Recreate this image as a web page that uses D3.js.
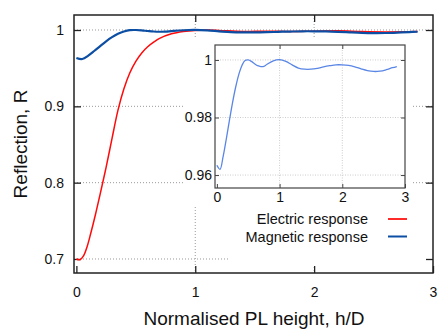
<!DOCTYPE html>
<html>
<head>
<meta charset="utf-8">
<script src="https://cdn.jsdelivr.net/npm/d3@7"></script>
<style>
  body { margin: 0; background: #fff; }
  text { font-family: "Liberation Sans", Arial, sans-serif; fill: #111; }
</style>
</head>
<body>
<div id="chart"></div>
<script>
// Data
const hElectric = [0, 0.03, 0.06, 0.09, 0.12, 0.16, 0.2, 0.25, 0.3, 0.35, 0.4, 0.45, 0.5, 0.55, 0.6,
  0.65, 0.7, 0.8, 0.9, 1.0, 1.1, 1.2, 1.4, 1.6, 1.8, 2.0, 2.2, 2.4, 2.6, 2.87];
const rElectric = [0.700, 0.699, 0.704, 0.716, 0.733, 0.758, 0.785, 0.820, 0.858, 0.895, 0.923, 0.944, 0.959, 0.970, 0.978,
  0.984, 0.989, 0.995, 0.998, 0.9995, 1.000, 0.9995, 0.998, 0.9985, 0.998, 0.9985, 0.999, 0.998, 0.9975, 0.998];

const hMagnetic = [0, 0.05, 0.1, 0.15, 0.2, 0.25, 0.3, 0.35, 0.4, 0.45, 0.5, 0.55, 0.6, 0.65, 0.7, 0.75, 0.8,
  0.9, 1.0, 1.1, 1.2, 1.3, 1.4, 1.5, 1.6, 1.7, 1.8, 1.9, 2.0, 2.1, 2.2, 2.3, 2.4, 2.5, 2.6, 2.7, 2.8, 2.87];
const rMagnetic = [0.9634, 0.9620, 0.9665, 0.9725, 0.9790, 0.9852, 0.9906, 0.9950, 0.9981, 0.9998, 1.0000, 0.9995, 0.9987, 0.9980, 0.9977, 0.9978, 0.9985,
  0.9997, 1.0001, 0.9995, 0.9983, 0.9972, 0.9968, 0.9968, 0.9971, 0.9976, 0.9980, 0.9983, 0.9983, 0.9981, 0.9976, 0.9969, 0.9963, 0.9960, 0.9961, 0.9966, 0.9973, 0.9977];

const mainXTicks = [0, 1, 2, 3];
const mainYTicks = [0.7, 0.8, 0.9, 1];
const insetXTicks = [0, 1, 2, 3];
const insetYTicks = [0.96, 0.98, 1];
const legendLabels = ["Electric response", "Magnetic response"];

const width = 438, height = 329;
const electric = hElectric.map((h, i) => [h, rElectric[i]]);
const magnetic = hMagnetic.map((h, i) => [h, rMagnetic[i]]);

const svg = d3.select("#chart").append("svg")
    .attr("width", width)
    .attr("height", height);

// Main plot scales
const x = d3.scaleLinear().domain([-0.02, 3]).range([74, 433]);
const y = d3.scaleLinear().domain([0.68165, 1.01965]).range([273, 15]);

// Main grid
const grid = svg.append("g")
    .attr("stroke", "#999")
    .attr("stroke-width", 1)
    .attr("stroke-dasharray", "1,2");
grid.selectAll(".gy").data(mainYTicks).enter().append("line")
    .attr("x1", 74).attr("x2", 433)
    .attr("y1", d => y(d)).attr("y2", d => y(d));
grid.selectAll(".gx").data([1, 2]).enter().append("line")
    .attr("x1", d => x(d)).attr("x2", d => x(d))
    .attr("y1", 15).attr("y2", 273);

// White boxes of inset and key
svg.append("rect").attr("x", 183).attr("y", 38).attr("width", 229).attr("height", 169).attr("fill", "#fff");
svg.append("rect").attr("x", 228).attr("y", 207).attr("width", 205).attr("height", 59).attr("fill", "#fff");

// Main axes (inward ticks, mirrored)
function styleAxis(g) {
  g.select(".domain").remove();
  g.selectAll(".tick line").attr("stroke", "#222").attr("stroke-width", 1.3);
  g.selectAll(".tick text").attr("font-size", 14).attr("fill", "#111")
    .attr("font-family", "Liberation Sans, Arial, sans-serif");
}
svg.append("g").attr("transform", "translate(0,273)")
    .call(d3.axisBottom(x).tickValues(mainXTicks).tickFormat(d3.format("d")).tickSizeInner(-7).tickSizeOuter(0).tickPadding(14))
    .call(styleAxis);
svg.append("g").attr("transform", "translate(74,0)")
    .call(d3.axisLeft(y).tickValues(mainYTicks).tickFormat(d => d === 1 ? "1" : d3.format(".1f")(d)).tickSizeInner(-7).tickSizeOuter(0).tickPadding(10))
    .call(styleAxis);
svg.append("g").attr("transform", "translate(0,15)")
    .call(d3.axisTop(x).tickValues([1, 2]).tickFormat("").tickSizeInner(-7).tickSizeOuter(0))
    .call(styleAxis);
svg.append("g").attr("transform", "translate(433,0)")
    .call(d3.axisRight(y).tickValues(mainYTicks).tickFormat("").tickSizeInner(-7).tickSizeOuter(0))
    .call(styleAxis);

svg.append("rect")
    .attr("x", 74).attr("y", 15).attr("width", 359).attr("height", 258)
    .attr("fill", "none").attr("stroke", "#222").attr("stroke-width", 1.5);

// Main curves
const line = d3.line().x(d => x(d[0])).y(d => y(d[1])).curve(d3.curveCatmullRom.alpha(0.5));
svg.append("path").datum(electric).attr("d", line)
    .attr("fill", "none").attr("stroke", "#ff0a0a").attr("stroke-width", 1.5);
svg.append("path").datum(magnetic).attr("d", line)
    .attr("fill", "none").attr("stroke", "#0c4ea3").attr("stroke-width", 2.2);

// Inset
const xi = d3.scaleLinear().domain([-0.03, 3]).range([215, 405]);
const yi = d3.scaleLinear().domain([0.9555, 1.0052]).range([188, 45]);

const igrid = svg.append("g")
    .attr("stroke", "#ccc")
    .attr("stroke-width", 1)
    .attr("stroke-dasharray", "1,1.5");
igrid.selectAll(".gy").data(insetYTicks).enter().append("line")
    .attr("x1", 215).attr("x2", 405)
    .attr("y1", d => yi(d)).attr("y2", d => yi(d));
igrid.selectAll(".gx").data([1, 2]).enter().append("line")
    .attr("x1", d => xi(d)).attr("x2", d => xi(d))
    .attr("y1", 45).attr("y2", 188);

function styleInset(g) {
  g.select(".domain").remove();
  g.selectAll(".tick line").attr("stroke", "#444").attr("stroke-width", 1);
  g.selectAll(".tick text").attr("font-size", 14).attr("fill", "#111")
    .attr("font-family", "Liberation Sans, Arial, sans-serif");
}
svg.append("g").attr("transform", "translate(0,188)")
    .call(d3.axisBottom(xi).tickValues(insetXTicks).tickFormat(d3.format("d")).tickSizeInner(-4).tickSizeOuter(0).tickPadding(4))
    .call(styleInset);
svg.append("g").attr("transform", "translate(215,0)")
    .call(d3.axisLeft(yi).tickValues(insetYTicks).tickFormat(d => d === 1 ? "1" : d3.format(".2f")(d)).tickSizeInner(-4).tickSizeOuter(0).tickPadding(3))
    .call(styleInset);
svg.append("g").attr("transform", "translate(0,45)")
    .call(d3.axisTop(xi).tickValues([1, 2]).tickFormat("").tickSizeInner(-4).tickSizeOuter(0))
    .call(styleInset);
svg.append("g").attr("transform", "translate(405,0)")
    .call(d3.axisRight(yi).tickValues(insetYTicks).tickFormat("").tickSizeInner(-4).tickSizeOuter(0))
    .call(styleInset);

svg.append("rect")
    .attr("x", 215).attr("y", 45).attr("width", 190).attr("height", 143)
    .attr("fill", "none").attr("stroke", "#444").attr("stroke-width", 1.2);

const iline = d3.line().x(d => xi(d[0])).y(d => yi(d[1])).curve(d3.curveCatmullRom.alpha(0.5));
svg.append("path").datum(magnetic).attr("d", iline)
    .attr("fill", "none").attr("stroke", "#5a86e6").attr("stroke-width", 1.3);

// Legend
const legendColors = ["#ff2a2a", "#0c4ea3"];
const legend = svg.append("g");
legendLabels.forEach((label, i) => {
  const ly = 219 + i * 17.5;
  legend.append("text")
      .attr("x", 368).attr("y", ly).attr("dy", "0.35em")
      .attr("text-anchor", "end").attr("font-size", 14.5)
      .text(label);
  legend.append("line")
      .attr("x1", 388).attr("x2", 407).attr("y1", ly).attr("y2", ly)
      .attr("stroke", legendColors[i]).attr("stroke-width", 2);
});

// Axis titles
svg.append("text")
    .attr("x", 254).attr("y", 325)
    .attr("text-anchor", "middle").attr("font-size", 19)
    .text("Normalised PL height, h/D");
svg.append("text")
    .attr("transform", "translate(27,144) rotate(-90)")
    .attr("text-anchor", "middle").attr("font-size", 19)
    .text("Reflection, R");
</script>
</body>
</html>
